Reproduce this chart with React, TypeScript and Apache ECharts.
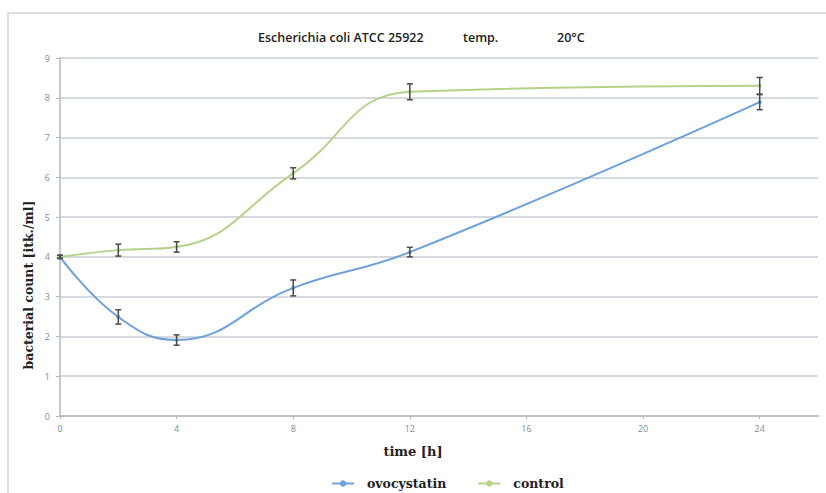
import React, { useEffect, useRef } from "react";
import * as echarts from "echarts";

const hours = [0, 2, 4, 8, 12, 24];
const ovocystatin = [4.0, 2.49, 1.91, 3.22, 4.12, 7.89];
const ovocystatinErr = [0.04, 0.18, 0.13, 0.2, 0.12, 0.19];
const control = [4.0, 4.17, 4.25, 6.1, 8.15, 8.3];
const controlErr = [0.04, 0.15, 0.13, 0.14, 0.2, 0.21];
const seriesNames = ["ovocystatin", "control"];
const titleParts = ["Escherichia coli ATCC 25922", "temp.", "20°C"];
const xAxisName = "time [h]";
const yAxisName = "bacterial count [itk./ml]";

const BLUE = "#6ea1d9";
const GREEN = "#b6d18b";

function errData(vals: number[], errs: number[]) {
  return hours.map((h, i) => [h, vals[i] - errs[i], vals[i] + errs[i]]);
}

function errRender(params: any, api: any) {
  const x = api.value(0);
  const lo = api.coord([x, api.value(1)]);
  const hi = api.coord([x, api.value(2)]);
  const w = 3;
  const style = { stroke: "#4a4a4a", lineWidth: 1.5 };
  return {
    type: "group",
    children: [
      { type: "line", shape: { x1: lo[0], y1: lo[1], x2: hi[0], y2: hi[1] }, style },
      { type: "line", shape: { x1: lo[0] - w, y1: lo[1], x2: lo[0] + w, y2: lo[1] }, style },
      { type: "line", shape: { x1: hi[0] - w, y1: hi[1], x2: hi[0] + w, y2: hi[1] }, style },
    ],
  };
}

export default function App() {
  const ref = useRef<HTMLDivElement>(null);
  useEffect(() => {
    const chart = echarts.init(ref.current!, null, { renderer: "svg" });
    const serif = "'DejaVu Serif', 'Liberation Serif', serif";
    const sans = "'Open Sans', 'Noto Sans', sans-serif";
    const titleStyle = { fontFamily: sans, fontSize: 12.5, fontWeight: 600, fill: "#222", verticalAlign: "middle" };
    chart.setOption({
      animation: false,
      backgroundColor: "#ffffff",
      grid: { left: 60, right: 8, top: 58, bottom: 77 },
      graphic: [
        {
          type: "rect",
          shape: { x: 8, y: 13, width: 830, height: 500 },
          style: { fill: "none", stroke: "#d3d5d9", lineWidth: 1.5 },
          silent: true,
        },
        { type: "text", x: 258, y: 37, style: { text: titleParts[0], ...titleStyle } },
        { type: "text", x: 463, y: 37, style: { text: titleParts[1], ...titleStyle } },
        { type: "text", x: 557, y: 37, style: { text: titleParts[2], ...titleStyle } },
        {
          type: "text",
          x: 413,
          y: 451,
          style: {
            text: xAxisName,
            fontFamily: serif,
            fontWeight: "bold",
            fontSize: 13,
            fill: "#222",
            align: "center",
            verticalAlign: "middle",
          },
        },
        {
          type: "text",
          x: 28,
          y: 285,
          rotation: Math.PI / 2,
          style: {
            text: yAxisName,
            fontFamily: serif,
            fontWeight: "bold",
            fontSize: 12.5,
            fill: "#222",
            align: "center",
            verticalAlign: "middle",
          },
        },
      ],
      legend: {
        data: seriesNames,
        left: 326,
        top: 472,
        itemWidth: 22,
        itemHeight: 8,
        itemGap: 31,
        textStyle: {
          fontFamily: serif,
          fontWeight: "bold",
          fontSize: 12.5,
          color: "#222",
          padding: [0, 0, 0, 8],
        },
      },
      xAxis: {
        type: "value",
        min: 0,
        max: 26,
        interval: 4,
        axisLine: { lineStyle: { color: "#b4b8c0", width: 1.5 } },
        axisTick: { show: true, length: 3, lineStyle: { color: "#b4b8c0" } },
        axisLabel: { color: "#8a8a8a", fontSize: 9, margin: 8, showMaxLabel: false, fontFamily: sans },
        splitLine: { show: false },
      },
      yAxis: {
        type: "value",
        min: 0,
        max: 9,
        interval: 1,
        axisLine: { show: true, lineStyle: { color: "#b4b8c0", width: 1.5 } },
        axisTick: { show: true, length: 4, lineStyle: { color: "#b4b8c0" } },
        axisLabel: { color: "#8a8a8a", fontSize: 9, margin: 10, fontFamily: sans },
        splitLine: { lineStyle: { color: "#c8ccd3", width: 1.5 } },
      },
      series: [
        {
          name: seriesNames[0],
          type: "line",
          data: hours.map((h, i) => [h, ovocystatin[i]]),
          smooth: 0.45,
          symbol: "circle",
          symbolSize: 4,
          itemStyle: { color: BLUE },
          lineStyle: { color: BLUE, width: 2 },
          z: 2,
        },
        {
          name: seriesNames[1],
          type: "line",
          data: hours.map((h, i) => [h, control[i]]),
          smooth: 0.45,
          symbol: "circle",
          symbolSize: 4,
          itemStyle: { color: GREEN },
          lineStyle: { color: GREEN, width: 2 },
          z: 2,
        },
        {
          type: "custom",
          renderItem: errRender,
          data: errData(ovocystatin, ovocystatinErr),
          encode: { x: 0, y: [1, 2] },
          z: 3,
          silent: true,
        },
        {
          type: "custom",
          renderItem: errRender,
          data: errData(control, controlErr),
          encode: { x: 0, y: [1, 2] },
          z: 3,
          silent: true,
        },
      ],
    });
    return () => chart.dispose();
  }, []);
  return (
    <div
      ref={ref}
      style={{ position: "fixed", left: 0, top: 0, width: 826, height: 493, background: "#fff" }}
    />
  );
}
